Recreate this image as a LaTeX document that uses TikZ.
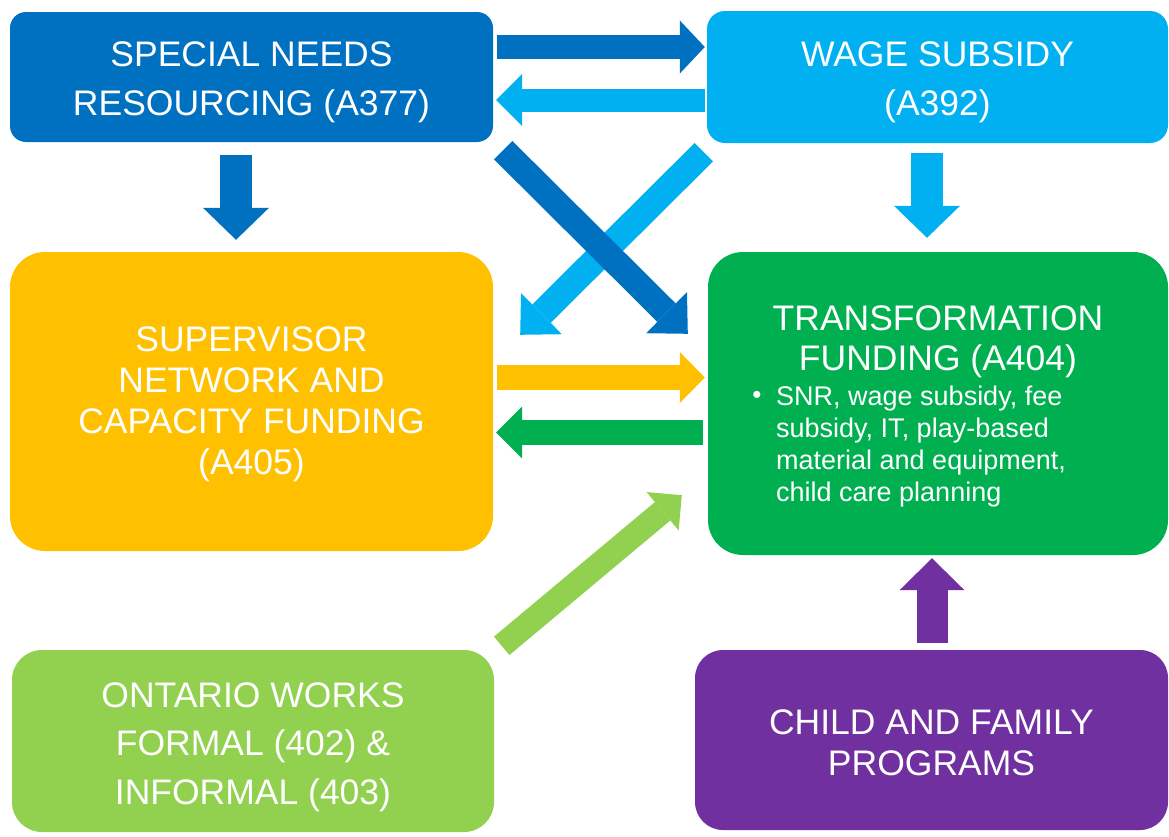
\documentclass[tikz,border=0pt]{standalone}
\usepackage{fontspec}
\setmainfont{Liberation Sans}
\usetikzlibrary{arrows.meta,calc}
\definecolor{cDark}{HTML}{0070C0}
\definecolor{cLight}{HTML}{00B0F0}
\definecolor{cYellow}{HTML}{FFC000}
\definecolor{cGreen}{HTML}{00B050}
\definecolor{cLime}{HTML}{92D050}
\definecolor{cPurple}{HTML}{7030A0}
\begin{document}
\begin{tikzpicture}[x=1pt,y=-1pt,
  box/.style={rectangle, rounded corners=#1, inner sep=0pt},
  lbl/.style={text=white, align=center, inner sep=0pt, font=\fontsize{35.5}{#1}\selectfont},
  fat/.style n args={3}{line width=#1, -{Triangle[length=#2, width=#3, line width=0pt]}}
]
\useasboundingbox (0,0) rectangle (1169,836);

% boxes
\node[box=16pt, fill=cDark, minimum width=483pt, minimum height=130pt] (snr) at (251.5,77) {};
\node[box=18pt, fill=cLight, minimum width=461pt, minimum height=132pt] (wage) at (937.5,77) {};
\node[box=35pt, fill=cYellow, minimum width=483pt, minimum height=299pt] (sup) at (251.5,401.5) {};
\node[box=35pt, fill=cGreen, minimum width=460pt, minimum height=303pt] (trans) at (938,403.5) {};
\node[box=30pt, fill=cLime, minimum width=482pt, minimum height=182pt] (ow) at (253,741) {};
\node[box=28pt, fill=cPurple, minimum width=473pt, minimum height=180pt] (cfp) at (931.5,740) {};

% labels
\node[lbl=49] (snrT) at ($(snr)+(0,5)$) {SPECIAL NEEDS\\RESOURCING (A377)};
\node[lbl=49] (wageT) at ($(wage)+(0,5)$) {WAGE SUBSIDY\\(A392)};
\node[lbl=41] (supT) at ($(sup)+(0,3)$) {SUPERVISOR\\NETWORK AND\\CAPACITY FUNDING\\(A405)};
\node[lbl=48.5] (owT) at ($(ow)+(0,6)$) {ONTARIO WORKS\\FORMAL (402) \&\\INFORMAL (403)};
\node[lbl=41] (cfpT) at ($(cfp)+(0,3)$) {CHILD AND FAMILY\\PROGRAMS};
\node[lbl=40] (ttitle) at (938,342) {TRANSFORMATION\\FUNDING (A404)};
\node[text=white, inner sep=0pt, font=\fontsize{26}{30}\selectfont] (bul) at (757,397) {\textbullet};
\node[anchor=north west, align=left, text=white, inner sep=0pt, font=\fontsize{27}{32}\selectfont] (btext) at (776,386) {SNR, wage subsidy, fee\\subsidy, IT, play-based\\material and equipment,\\child care planning};

% arrows
\draw[fat={24pt}{25pt}{53pt}, cDark] ($(snr.east)+(4,-30)$) -- ($(wage.west)+(-2,-30)$);
\draw[fat={23pt}{26pt}{52pt}, cLight] ($(wage.west)+(-2,23)$) -- ($(snr.east)+(3,23)$);
\draw[fat={32pt}{32pt}{66pt}, cDark] ($(snr.south)+(-15.5,13)$) -- ($(sup.north)+(-15.5,-12)$);
\draw[fat={32pt}{32pt}{66pt}, cLight] ($(wage.south)+(-10.5,10)$) -- ($(trans.north)+(-11,-14)$);
\draw[fat={26pt}{30pt}{58pt}, cLight] ($(wage.south west)+(-3,9)$) -- ($(sup.north east)+(27,83)$);
\draw[fat={26pt}{30pt}{58pt}, cDark] ($(snr.south east)+(10,8)$) -- ($(trans.north west)+(-20,82)$);
\draw[fat={25pt}{25pt}{51pt}, cYellow] ($(sup.east)+(4,-24)$) -- ($(trans.west)+(-3,-26)$);
\draw[fat={25pt}{26pt}{52pt}, cGreen] ($(trans.west)+(-5,29)$) -- ($(sup.east)+(3,31)$);
\draw[fat={24pt}{25pt}{50pt}, cLime] ($(ow.north east)+(7.5,-4)$) -- ($(trans.south west)+(-26,-60)$);
\draw[fat={31pt}{32pt}{65pt}, cPurple] ($(cfp.north)+(0.5,-7)$) -- ($(trans.south)+(-6,3)$);
\end{tikzpicture}
\end{document}
